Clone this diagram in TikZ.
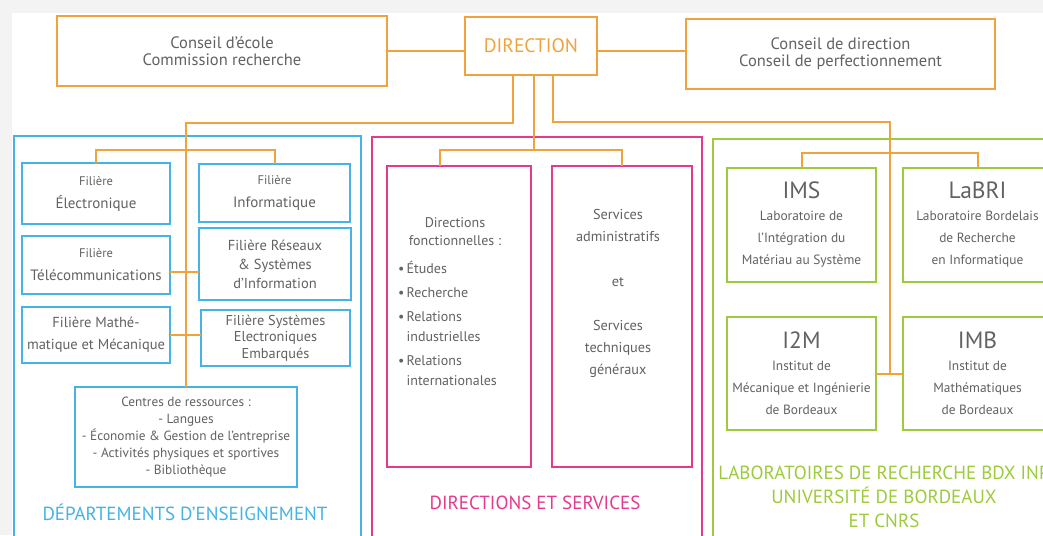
\documentclass[tikz,border=0pt]{standalone}
\usepackage{fontspec}
\setmainfont{PT Sans}
\usetikzlibrary{positioning,calc}
\definecolor{orangeDir}{HTML}{F0A33C}
\definecolor{bleuDep}{HTML}{45B3E5}
\definecolor{roseDir}{HTML}{E5398F}
\definecolor{vertLab}{HTML}{9DCB3B}
\definecolor{texteGris}{HTML}{626262}
\definecolor{fondGris}{HTML}{F3F3F3}

\begin{document}
\begin{tikzpicture}[x=1pt,y=-1pt,
				every node/.style={text=texteGris,align=center,inner sep=0pt,outer sep=0pt},
				box/.style={draw,line width=2pt,fill=white},
				conseil/.style={box,draw=orangeDir,minimum height=70pt,font=\fontsize{16.5}{17}\selectfont},
				filiere/.style={box,draw=bleuDep,minimum width=148pt,font=\fontsize{15}{23}\selectfont},
				petit/.style={font=\fontsize{14}{18}\selectfont},
				service/.style={box,draw=roseDir,minimum height=301pt},
				labo/.style={box,draw=vertLab,minimum width=149pt,minimum height=114pt,font=\fontsize{13.4}{22}\selectfont},
				cadre/.style={draw,line width=2pt,anchor=north west,minimum height=420pt},
				titre/.style={font=\fontsize{19}{24}\selectfont},
				lien/.style={draw=orangeDir,line width=2pt}]
				\useasboundingbox (0,0) rectangle (1043,535);
				\clip (0,0) rectangle (1043,535);
				\fill[fondGris] (0,0) rectangle (1043,535);
				\fill[white] (12,13) rectangle (1043,535);

				% conseils et direction
				\node (conseilEcole) [conseil,minimum width=330pt] at (222,51)   {Conseil d'école\\Commission recherche};
				\node (direction)    [box,draw=orangeDir,minimum width=132pt,minimum height=58pt,text=orangeDir,font=\fontsize{19.5}{24}\selectfont] at (531,46) {DIRECTION};
				\node (conseilDir)   [conseil,minimum width=309pt] at (840.5,54) {Conseil de direction\\Conseil de perfectionnement};

				% cadres
				\node (dep) [cadre,draw=bleuDep,minimum width=347pt] at (14,136)  {};
				\node (dir) [cadre,draw=roseDir,minimum width=330pt] at (372,137) {};
				\node (lab) [cadre,draw=vertLab,minimum width=350pt] at (713,139) {};

				% departements
				\node (elec)     [filiere,minimum height=61pt] at (96,193.5) {{\fontsize{12.5}{23}\selectfont Filière}\\Électronique};
				\node (info)     [filiere,minimum width=151pt,minimum height=58pt] at (274.5,193) {{\fontsize{12.5}{23}\selectfont Filière}\\Informatique};
				\node (telecom)  [filiere,minimum height=58pt] at (96,265) {{\fontsize{12.5}{23}\selectfont Filière}\\Télécommunications};
				\node (reseaux)  [filiere,minimum width=152pt,minimum height=72pt,font=\fontsize{14.5}{19}\selectfont] at (275,264) {Filière Réseaux\\\& Systèmes\\d'Information};
				\node (math)     [filiere,minimum height=56pt,font=\fontsize{14.5}{22}\selectfont] at (96,335) {Filière Mathé-\\matique et Mécanique};
				\node (systemes) [filiere,minimum width=149pt,minimum height=56pt,font=\fontsize{14.3}{16.5}\selectfont] at (275.5,338) {Filière Systèmes\\Electroniques\\Embarqués};
				\node (ressources) [filiere,minimum width=222pt,minimum height=100pt,font=\fontsize{13.3}{17}\selectfont] at (186,437)
					{Centres de ressources :\\- Langues\\- Économie \& Gestion de l'entreprise\\- Activités physiques et sportives\\- Bibliothèque};
				\node (titreDep) [titre,text=bleuDep] at (185,512) {DÉPARTEMENTS D'ENSEIGNEMENT};

				% directions et services
				\node (dirfonc)  [service,minimum width=144pt] at (459,316.5) {};
				\node (services) [service,minimum width=140pt] at (622,316.5) {};
				\node (dirfoncTitre) [petit] at (455,232) {Directions\\fonctionnelles :};
				\node (dirfoncListe) [petit,align=left,anchor=north west,font=\fontsize{14}{20}\selectfont] at (398,261)
					{•\,Études\\[4pt]•\,Recherche\\[4pt]•\,Relations\\\phantom{•\,}industrielles\\[4pt]•\,Relations\\\phantom{•\,}internationales};
				\node (servicesTxt) [font=\fontsize{14.3}{22}\selectfont] at (618,293.5)
					{Services\\administratifs\\[23pt]et\\[22pt]Services\\techniques\\généraux};
				\node (titreDir) [titre,text=roseDir] at (535,503) {DIRECTIONS ET SERVICES};

				% laboratoires
				\node (ims)   [labo] at (801.5,225)   {{\fontsize{23.5}{22}\selectfont IMS}\\Laboratoire de\\l'Intégration du\\Matériau au Système};
				\node (labri) [labo] at (977.5,225)   {{\fontsize{23.5}{22}\selectfont LaBRI}\\Laboratoire Bordelais\\de Recherche\\en Informatique};
				\node (i2m)   [labo,minimum height=113pt] at (801.5,373.5) {{\fontsize{23.5}{22}\selectfont I2M}\\Institut de\\Mécanique et Ingénierie\\de Bordeaux};
				\node (imb)   [labo,minimum height=113pt] at (977.5,373.5) {{\fontsize{23.5}{22}\selectfont IMB}\\Institut de\\Mathématiques\\de Bordeaux};
				\node (titreLab) [titre,text=vertLab] at (884,497) {LABORATOIRES DE RECHERCHE BDX INP\\UNIVERSITÉ DE BORDEAUX\\ET CNRS};

				% liens
				\draw[lien] (conseilEcole.east) -- (conseilEcole.east -| direction.west);
				\draw[lien] (direction.east |- conseilEcole.east) -- (conseilEcole.east -| conseilDir.west);
				\draw[lien] ([xshift=-18pt]direction.south) -- ++(0,48) -| (ressources.north);
				\draw[lien] ([xshift=3pt]direction.south) -- ++(0,75) coordinate (embranchement) -| ([xshift=-19pt]dirfonc.north);
				\draw[lien] (embranchement) -| (services.north);
				\draw[lien] ([xshift=22pt]direction.south) -- ++(0,47) -| ($(i2m.east)!0.5!(imb.west)$);
				\draw[lien] (i2m.east) -- (imb.west);
				\draw[lien] (elec.north) -- ++(0,-13) -| (info.north);
				\draw[lien] ([yshift=-7pt]telecom.east) -- ([yshift=-7pt]telecom.east -| reseaux.west);
				\draw[lien] (math.east) -- (math.east -| systemes.west);
				\draw[lien] (ims.north) -- ++(0,-15) -| (labri.north);
			\end{tikzpicture}
\end{document}
